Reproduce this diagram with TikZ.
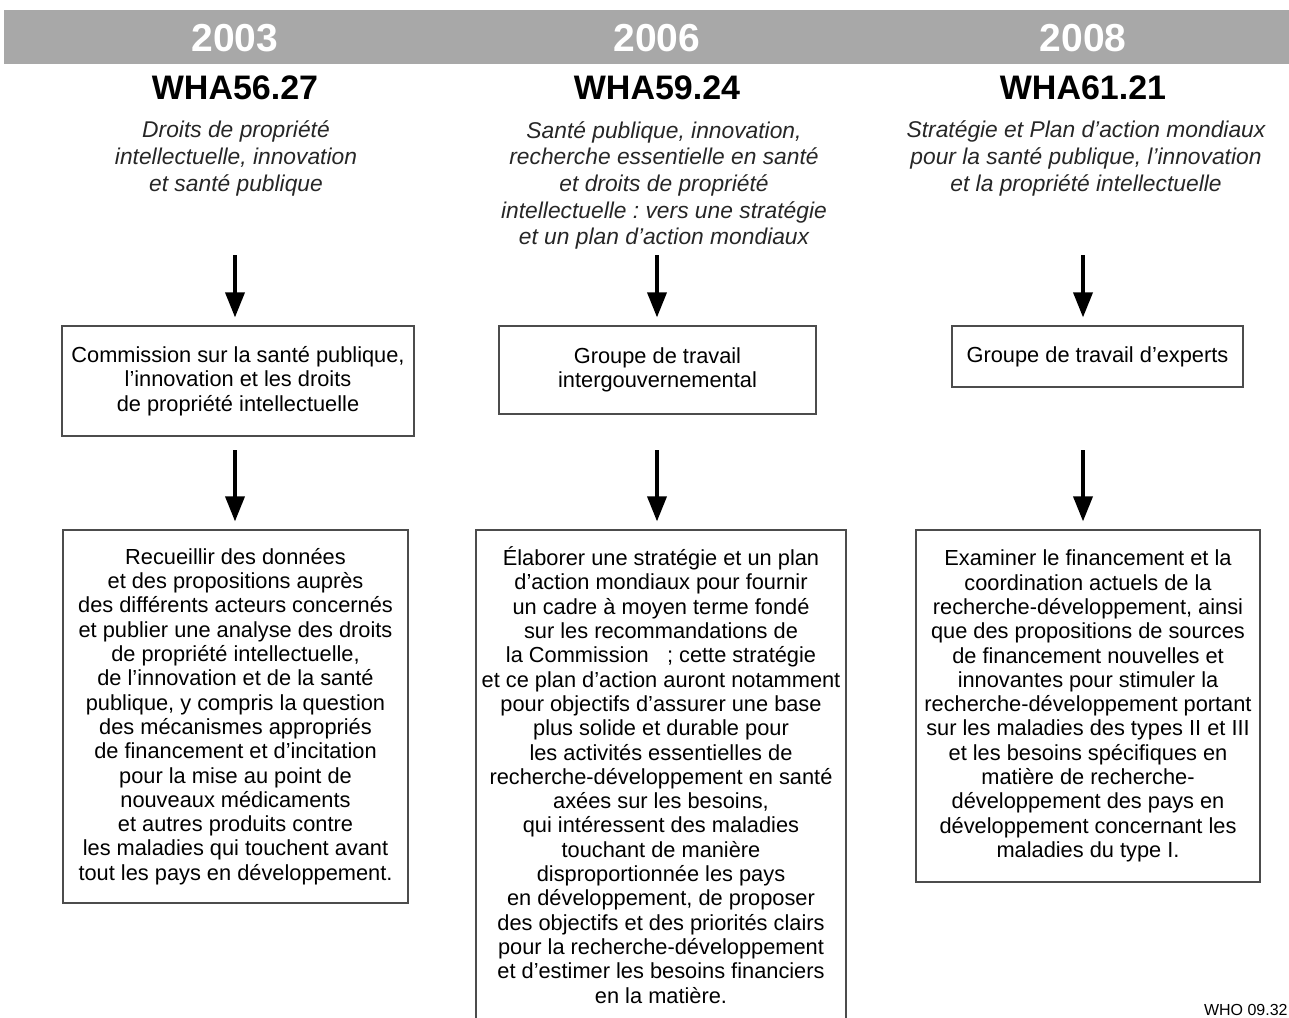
\documentclass[tikz,border=0pt]{standalone}
\usepackage{fontspec}
\setmainfont{Liberation Sans}
\usetikzlibrary{arrows.meta,positioning}
\frenchspacing

\begin{document}
\begin{tikzpicture}[x=0.5pt,y=-0.5pt]
\tikzstyle{annee}=[text=white,font=\fontsize{19.5}{22}\selectfont\bfseries]
\tikzstyle{resol}=[font=\fontsize{17}{20}\selectfont\bfseries]
\tikzstyle{titre}=[align=center,text=black!85,font=\fontsize{11.4}{13.3}\selectfont\itshape]
\tikzstyle{boite}=[draw=black!70,line width=0.6pt,align=center,inner sep=0pt,font=\fontsize{10.9}{12.15}\selectfont]
\tikzstyle{fleche}=[line width=1.8pt,-{Triangle[length=12.5pt,width=9.5pt]},shorten >=4pt]
\useasboundingbox (0,0) rectangle (1289,1017);
\fill[black!34] (4,10) rectangle (1289,64);
\foreach \name/\x/\an/\res in {
	a/235/2003/WHA56.27,
	b/657/2006/WHA59.24,
	c/1083/2008/WHA61.21}
{
	\node[annee] (y\name) at (\x,38) {\an};
	\node[resol] (r\name) at (\x,88) {\res};
	\coordinate (t\name) at (\x,255);
	\coordinate (d\name) at (\x,450);
}
% titres des resolutions
\node[titre] (sa) at (236,158.5) {Droits de propriété\\intellectuelle, innovation\\et santé publique};
\node[titre] (sb) at (664,185.5) {Santé publique, innovation,\\recherche essentielle en santé\\et droits de propriété\\intellectuelle : vers une stratégie\\et un plan d'action mondiaux};
\node[titre] (sc) at (1086,158.5) {Stratégie et Plan d'action mondiaux\\pour la santé publique, l'innovation\\et la propriété intellectuelle};
% organes
\node[boite,minimum width=176pt,minimum height=55pt] (Aa) at (238,381) {Commission sur la santé publique,\\l'innovation et les droits\\de propriété intellectuelle};
\node[boite,minimum width=158.5pt,minimum height=44pt] (Ab) at (657.5,370) {Groupe de travail\\intergouvernemental};
\node[boite,minimum width=145.5pt,minimum height=30.5pt] (Ac) at (1097.5,356.5) {Groupe de travail d'experts};
% mandats
\node[boite,minimum width=172.5pt,minimum height=186.5pt] (Ba) at (235.5,716.5) {Recueillir des données\\et des propositions auprès\\des différents acteurs concernés\\et publier une analyse des droits\\de propriété intellectuelle,\\de l'innovation et de la santé\\publique, y compris la question\\des mécanismes appropriés\\de financement et d'incitation\\pour la mise au point de\\nouveaux médicaments\\et autres produits contre\\les maladies qui touchent avant\\tout les pays en développement.};
\node[boite,minimum width=185pt,minimum height=245pt] (Bb) at (661,775) {Élaborer une stratégie et un plan\\d'action mondiaux pour fournir\\un cadre à moyen terme fondé\\sur les recommandations de\\la Commission~~~; cette stratégie\\et ce plan d'action auront notamment\\pour objectifs d'assurer une base\\plus solide et durable pour\\les activités essentielles de\\recherche-développement en santé\\axées sur les besoins,\\qui intéressent des maladies\\touchant de manière\\disproportionnée les pays\\en développement, de proposer\\des objectifs et des priorités clairs\\pour la recherche-développement\\et d'estimer les besoins financiers\\en la matière.};
\node[boite,minimum width=172pt,minimum height=176pt] (Bc) at (1088,706) {Examiner le financement et la\\coordination actuels de la\\recherche-développement, ainsi\\que des propositions de sources\\de financement nouvelles et\\innovantes pour stimuler la\\recherche-développement portant\\sur les maladies des types II et III\\et les besoins spécifiques en\\matière de recherche-\\développement des pays en\\développement concernant les\\maladies du type I.};
\foreach \name in {a,b,c}
{
	\draw[fleche] (t\name) -- (t\name |- A\name.north);
	\draw[fleche] (d\name) -- (d\name |- B\name.north);
}
\node[anchor=south east,inner sep=0pt,font=\fontsize{8}{9}\selectfont] (ref) at (1288,1016) {WHO 09.32};
\end{tikzpicture}
\end{document}
